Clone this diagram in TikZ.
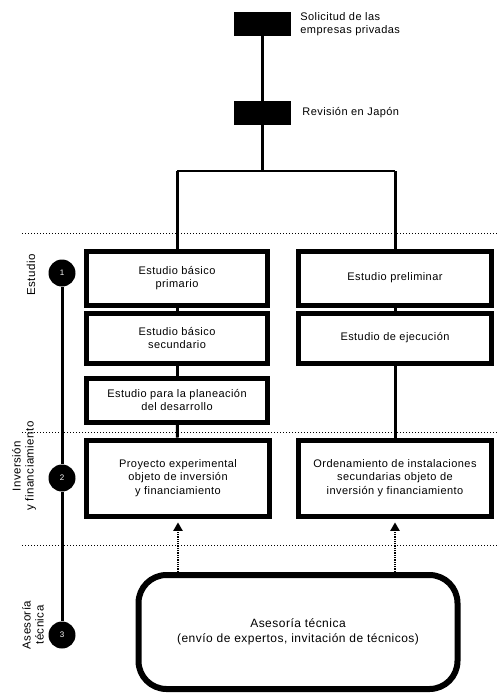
\documentclass[tikz,border=0pt]{standalone}
\usepackage{fontspec}
\setmainfont{Liberation Sans}[LetterSpace=4]
\usepackage{tikz}
\usetikzlibrary{calc,arrows,positioning}
\tikzset{
myHead/.style={
	rectangle,fill=black,draw=black,
	inner sep=0pt,minimum width=56pt,minimum height=23pt
}
, myHeadText/.style={
	anchor=west,align=left,inner sep=0pt,
	font=\fontsize{11}{12.5}\selectfont
}
, myStep/.style={
	rectangle,draw=black,line width=5pt,fill=white,
	inner sep=2pt,align=center,
	font=\fontsize{11}{13.5}\selectfont
}
, myAdvice/.style={
	rectangle,draw=black,line width=6pt,rounded corners=28pt,
	minimum width=319pt,minimum height=114pt,align=center,
	font=\fontsize{12}{14.5}\selectfont
}
, myStage/.style={
	circle,fill=black,minimum size=27pt,inner sep=0pt,
	text=white,font=\fontsize{8}{9}\selectfont
}
, myStageText/.style={
	rotate=90,align=center,inner sep=0pt,
	font=\fontsize{11.5}{13}\selectfont
}
% link
, myLink/.style={line width=3pt}
, myThin/.style={line width=1.6pt}
, mySep/.style={dotted,line width=1pt}
, myHelp/.style={->,>=triangle 60,densely dotted,line width=1.3pt}
}

\begin{document}
\begin{tikzpicture}[x=1pt,y=-1pt]
	\useasboundingbox (0,0) rectangle (498,697);
	% separators
	\draw[mySep] (22,233) -- (498,233);
	\draw[mySep] (22,432) -- (498,432);
	\draw[mySep] (22,545) -- (498,545);
	% nodes
	\node[myHead] (Sol) at (262,24) {};
	\node[myHead] (Rev) at (262,113) {};
	\node[myHeadText] (SolText) [right=10pt of Sol] {Solicitud de las\\empresas privadas};
	\node[myHeadText] (RevText) [right=12pt of Rev] {Revisión en Japón};
	\coordinate (Split) at (262,171);
	% left column
	\node[myStep,minimum width=181pt,minimum height=54pt] (Basico1) at (177,278) {Estudio básico\\primario};
	\node[myStep,minimum width=181pt,minimum height=50pt] (Basico2) at (177,338) {Estudio básico\\secundario};
	\node[myStep,minimum width=181pt,minimum height=44pt] (Plan) at (177,400) {Estudio para la planeación\\del desarrollo};
	\node[myStep,minimum width=183pt,minimum height=76pt] (Piloto) at (178,478) {Proyecto experimental\\objeto de inversión\\y financiamiento};
	% right column
	\node[myStep,minimum width=193pt,minimum height=54pt] (Prelim) at (395,278) {Estudio preliminar};
	\node[myStep,minimum width=193pt,minimum height=50pt] (Ejec) at (395,338) {Estudio de ejecución};
	\node[myStep,minimum width=193pt,minimum height=76pt] (Orden) at (395,478) {Ordenamiento de instalaciones\\secundarias objeto de\\inversión y financiamiento};
	% technical advice
	\node[myAdvice] (Asesor) at (298,632) {Asesoría técnica\\(envío de expertos, invitación de técnicos)};
	% stages
	\node[myStage] (Stage1) at (62,273) {1};
	\node[myStage] (Stage2) at (62,478) {2};
	\node[myStage] (Stage3) at (62,635) {3};
	\node[myStageText] (Stage1Text) at (31,275) {Estudio};
	\node[myStageText] (Stage2Text) at (24,466) {Inversión\\y financiamiento};
	\node[myStageText] (Stage3Text) at (33,625) {Asesoría\\técnica};
	
	% links
	\draw[myLink] (Sol) -- (Rev);
	\draw[myLink] (Rev) -- (Split);
	\draw[myThin] (Basico1.north |- Split) -- (Prelim.north |- Split);
	\draw[myLink] (Basico1.north |- Split) -- (Basico1.north);
	\draw[myLink] (Prelim.north |- Split) -- (Prelim.north);
	\draw[myLink] (Basico1) -- (Basico2);
	\draw[myLink] (Basico2) -- (Plan);
	\draw[myLink] (Plan) -- (Piloto);
	\draw[myLink] (Prelim) -- (Ejec);
	\draw[myLink] (Ejec) -- (Orden);
	\draw[myHelp] (Asesor.north -| Piloto.south) -- ($(Piloto.south)+(0,4)$);
	\draw[myHelp] (Asesor.north -| Orden.south) -- ($(Orden.south)+(0,4)$);
	\draw[myLink] (Stage1) -- (Stage2);
	\draw[myLink] (Stage2) -- (Stage3);
\end{tikzpicture}
\end{document}
